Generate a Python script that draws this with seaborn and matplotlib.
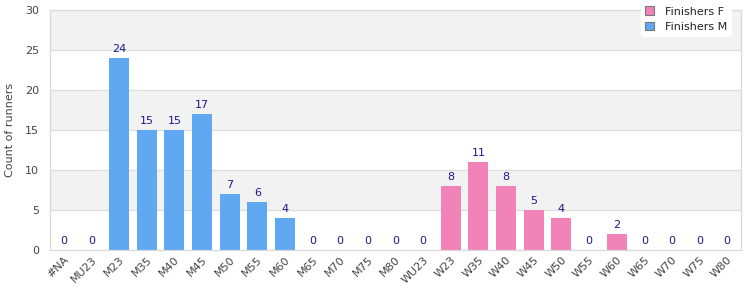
import matplotlib
matplotlib.use("Agg")
import matplotlib.pyplot as plt
import seaborn as sns
import pandas as pd
from matplotlib.patches import Patch

categories = ["#NA", "MU23", "M23", "M35", "M40", "M45", "M50", "M55", "M60", "M65",
              "M70", "M75", "M80", "WU23", "W23", "W35", "W40", "W45", "W50", "W55",
              "W60", "W65", "W70", "W75", "W80"]
finishers_m = [0, 0, 24, 15, 15, 17, 7, 6, 4, 0, 0, 0, 0, 0,
               0, 0, 0, 0, 0, 0, 0, 0, 0, 0, 0]
finishers_f = [0, 0, 0, 0, 0, 0, 0, 0, 0, 0, 0, 0, 0, 0,
               8, 11, 8, 5, 4, 0, 2, 0, 0, 0, 0]
y_ticks = [0, 5, 10, 15, 20, 25, 30]

color_m = "#60a8f2"
color_f = "#f283b8"
text_c = "#444444"

sns.set_theme(style="white")
plt.rcParams["font.family"] = ["DejaVu Sans"]

rows = []
for c, m, f in zip(categories, finishers_m, finishers_f):
    sex = "Finishers F" if f > 0 or c.startswith("W") else "Finishers M"
    rows.append({"category": c, "series": sex, "count": m + f})
df = pd.DataFrame(rows)

fig = plt.figure(figsize=(7.5, 3), dpi=100)
ax = fig.add_axes([50 / 750, 50 / 300, 691 / 750, 240 / 300])

sns.barplot(data=df, x="category", y="count", hue="series", order=categories,
            hue_order=["Finishers F", "Finishers M"],
            palette={"Finishers M": color_m, "Finishers F": color_f},
            dodge=False, width=0.72, ax=ax, legend=False, saturation=1,
            linewidth=0, edgecolor="none")

# alternating bands
for i in range(6):
    if i % 2 == 1:
        ax.axhspan(y_ticks[i], y_ticks[i + 1], color="#f2f2f2", zorder=0, lw=0)
for t in y_ticks[1:-1]:
    ax.axhline(t, color="#dddddd", lw=0.9, zorder=0.5)

totals = [m + f for m, f in zip(finishers_m, finishers_f)]
for i, v in enumerate(totals):
    ax.annotate(str(v), (i, v), xytext=(0, 3), textcoords="offset points",
                ha="center", va="bottom", fontsize=8, color="#1a1a8c")

ax.set_ylim(0, 30)
ax.set_xlim(-0.5, len(categories) - 0.5)
ax.set_yticks(y_ticks)
ax.tick_params(axis="both", length=0, colors=text_c, labelsize=8)
ax.tick_params(axis="y", pad=8)
plt.setp(ax.get_xticklabels(), rotation=45, ha="right", rotation_mode="anchor")
ax.set_xlabel("")
ax.set_ylabel("Count of runners", color=text_c, fontsize=8, labelpad=7)
for s in ax.spines.values():
    s.set_color("#d9d9d9")
    s.set_linewidth(0.9)

handles = [Patch(facecolor=color_f, edgecolor="#777777", lw=0.8, label="Finishers F"),
           Patch(facecolor=color_m, edgecolor="#777777", lw=0.8, label="Finishers M")]
leg = fig.legend(handles=handles, loc="upper right", bbox_to_anchor=(737 / 750, 1.01),
                 frameon=True, fontsize=8, handlelength=0.8, handleheight=0.8,
                 handletextpad=1.0, borderpad=0.35, labelspacing=0.45)
leg.get_frame().set_edgecolor("white")
leg.get_frame().set_facecolor("white")
leg.get_frame().set_alpha(1)
for t in leg.get_texts():
    t.set_color("#222222")

fig.savefig("out.png", dpi=100)
